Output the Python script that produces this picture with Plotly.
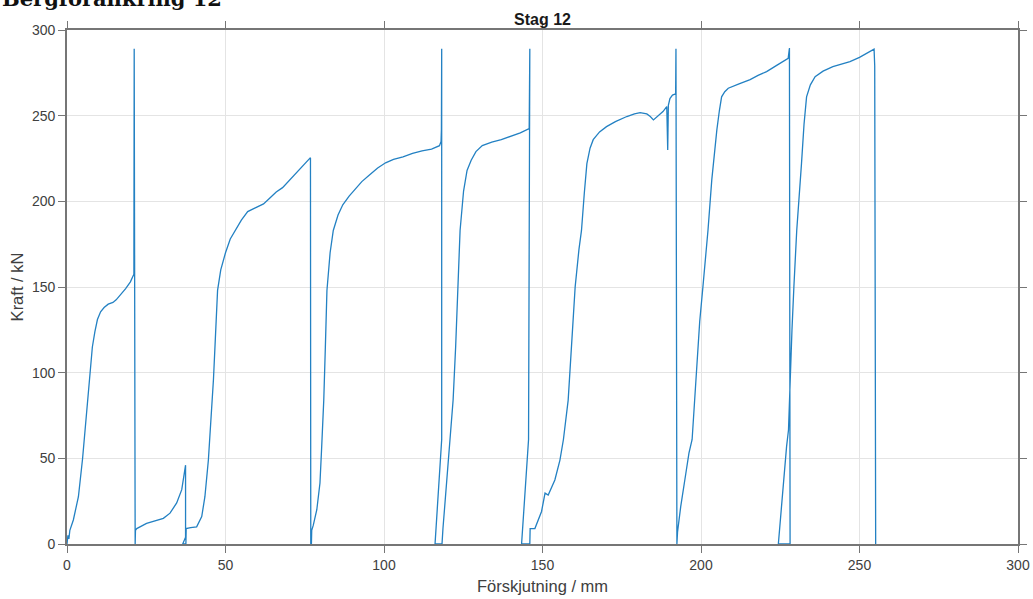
import plotly.graph_objects as go

# Load–displacement record for anchor "Stag 12" (displacement in mm, force in kN)
forskjutning = [
    0.0, 0.3, 0.6, 0.9, 2.0, 3.6, 4.9, 6.0, 7.0, 7.2, 8.0, 8.8, 9.6, 10.6, 11.7, 13.0, 14.5, 15.5,
    17.0, 18.5, 20.0, 21.1, 21.2, 21.3, 21.5, 21.6, 22.0, 25.1, 28.3, 30.4, 32.5, 34.6, 36.2, 37.0,
    37.4, 37.4, 36.5, 37.5, 37.6, 39.0, 40.9, 42.5, 43.5, 44.6, 45.6, 46.2, 46.8, 47.5, 48.5, 50.0,
    51.5, 53.0, 55.0, 57.0, 59.5, 62.0, 64.0, 66.0, 68.0, 70.0, 72.0, 74.0, 76.0, 76.8, 76.9, 77.1,
    77.2, 77.7, 78.8, 79.8, 80.3, 81.0, 81.5, 82.0, 83.0, 84.0, 85.5, 87.0, 89.0, 91.0, 93.0, 95.5,
    98.0, 100.5, 103.0, 106.0, 109.0, 112.0, 115.0, 117.5, 118.0, 118.2, 118.1, 118.2, 118.2, 116.1,
    118.3, 118.6, 119.3, 120.3, 120.8, 121.8, 122.6, 123.3, 124.0, 125.1, 126.2, 127.5, 129.0, 131.0,
    134.0, 137.0, 140.0, 143.0, 145.8, 146.0, 145.6, 143.4, 146.0, 146.1, 147.6, 148.6, 149.7, 150.8,
    151.8, 153.9, 155.5, 156.6, 158.1, 159.3, 160.3, 161.5, 162.3, 163.2, 164.0, 165.0, 166.0, 168.0,
    170.2, 173.0, 176.6, 179.0, 180.8, 182.9, 184.0, 185.0, 186.5, 188.0, 189.2, 189.5, 189.7, 190.2,
    191.0, 192.0, 192.1, 192.2, 192.4, 192.6, 193.6, 195.2, 196.2, 197.2, 198.0, 198.6, 199.6, 200.6,
    201.5, 202.2, 203.4, 204.2, 205.0, 205.8, 206.5, 207.5, 208.6, 212.0, 215.5, 218.0, 220.7, 224.0,
    227.5, 227.9, 228.1, 224.4, 225.5, 227.0, 227.6, 228.1, 228.7, 229.3, 230.2, 231.7, 232.5, 233.3,
    234.5, 236.0, 238.5, 241.6, 244.0, 247.0, 250.0, 252.5, 254.6, 254.8, 255.1,
]
kraft = [
    0.0, 5.0, 3.0, 8.0, 14.0, 27.6, 49.6, 72.0, 96.0, 100.0, 115.0, 124.0, 131.0, 135.5, 138.0, 140.0,
    141.0, 142.5, 145.5, 149.0, 153.0, 157.5, 289.0, 0.0, 0.0, 8.0, 9.0, 12.0, 14.0, 15.0, 18.0, 24.0,
    31.7, 40.0, 46.0, 4.0, 0.0, 0.0, 9.0, 9.5, 10.0, 16.0, 27.6, 49.0, 76.0, 96.0, 120.0, 148.0, 160.0,
    170.0, 178.0, 183.0, 189.0, 194.0, 196.5, 198.5, 202.0, 205.5, 208.0, 212.0, 216.5, 220.5, 224.0,
    225.5, 0.0, 0.0, 8.0, 11.0, 20.0, 35.6, 55.0, 84.0, 115.0, 148.0, 170.0, 183.0, 192.0, 198.0,
    203.0, 207.5, 211.5, 215.5, 219.5, 222.5, 224.5, 226.0, 228.0, 229.5, 230.5, 232.5, 235.0, 247.0,
    236.0, 289.0, 61.0, 0.0, 0.0, 9.0, 25.7, 49.0, 61.0, 84.0, 115.0, 150.0, 183.0, 206.0, 218.0,
    224.0, 229.0, 232.5, 234.5, 236.0, 238.0, 240.0, 242.5, 289.0, 61.0, 0.0, 0.0, 9.0, 9.0, 14.0,
    19.0, 29.7, 28.6, 37.4, 49.0, 61.0, 84.0, 120.0, 150.0, 172.0, 183.0, 205.0, 222.0, 231.0, 236.0,
    240.5, 243.6, 246.5, 249.5, 251.0, 251.8, 251.0, 249.5, 247.5, 250.0, 252.4, 255.3, 230.0, 256.0,
    260.0, 262.0, 262.7, 289.0, 0.0, 0.0, 7.0, 21.8, 41.0, 53.0, 61.0, 84.0, 105.0, 130.0, 150.0,
    168.0, 183.0, 212.5, 228.0, 241.7, 253.0, 261.0, 264.0, 266.0, 268.5, 271.0, 273.5, 275.7, 279.5,
    283.5, 289.5, 0.0, 0.0, 25.0, 57.0, 66.5, 96.0, 125.0, 150.0, 183.0, 222.0, 245.0, 261.0, 268.0,
    272.8, 276.0, 278.6, 280.0, 281.6, 284.0, 286.5, 288.8, 279.0, 0.0,
]

tick_values = [0, 50, 100, 150, 200, 250, 300]
tick_labels = ["0", "50", "100", "150", "200", "250", "300"]

axis_color = "#767676"
text_color = "#404040"
sans = "Liberation Sans, Arial, sans-serif"

fig = go.Figure()
fig.add_trace(go.Scatter(
    x=forskjutning, y=kraft, mode="lines",
    line=dict(color="#2381c3", width=1.3),
    showlegend=False, hoverinfo="skip",
))

axis_common = dict(
    range=[0, 300], tickvals=tick_values, ticktext=tick_labels,
    showline=True, linecolor=axis_color, linewidth=1.6, mirror="ticks",
    ticks="outside", ticklen=7, tickwidth=1.2, tickcolor=axis_color,
    showgrid=True, gridcolor="#e4e4e4", gridwidth=1, zeroline=False,
    tickfont=dict(family=sans, size=14, color=text_color),
)

fig.update_xaxes(
    **axis_common,
    title=dict(text="Förskjutning / mm", standoff=9,
               font=dict(family=sans, size=16.5, color=text_color)),
)
fig.update_yaxes(
    **axis_common,
    title=dict(text="Kraft / kN", standoff=4,
               font=dict(family=sans, size=16.5, color=text_color)),
)

fig.update_layout(
    width=1033, height=599,
    margin=dict(l=67, r=15, t=30, b=55, autoexpand=False),
    paper_bgcolor="white", plot_bgcolor="white",
    title=dict(text="<b>Stag 12</b>", x=0.5, xref="paper", xanchor="center",
               y=1 - 19 / 599, yref="container", yanchor="middle",
               font=dict(family=sans, size=16, color="#1a1a1a")),
)

# Report heading above the chart, partly cut by the top edge of the page
fig.add_annotation(
    text="<b>Bergförankring 12</b>", showarrow=False,
    xref="paper", yref="paper", x=-67 / 951, y=(544 - 13) / 514,
    xanchor="left", yanchor="bottom",
    font=dict(family="DejaVu Serif, serif", size=21, color="#111111"),
)

fig.write_html("out.html")
